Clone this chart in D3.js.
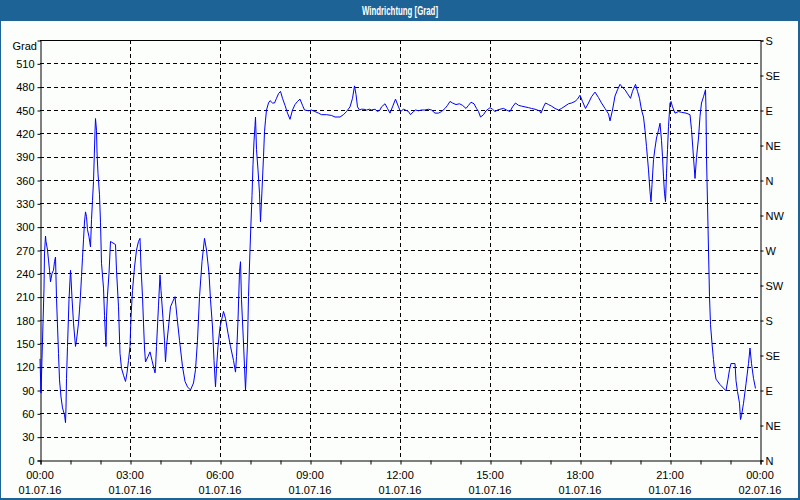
<!DOCTYPE html>
<html>
<head>
<meta charset="utf-8">
<script src="https://cdn.jsdelivr.net/npm/d3@7"></script>
<style>
    body { margin: 0; background: #fbfefb; }
    svg { display: block; }
    text { font-family: "Liberation Sans", Arial, sans-serif; font-size: 11px; fill: #000; }
</style>
</head>
<body>
<div id="chart"></div>
<script>
// Messwerte: Minuten seit 01.07.16 00:00 und Windrichtung in Grad
const minutes = [0, 2, 4, 6, 8, 9, 11, 12, 15, 17, 19, 21, 24, 27, 29, 31, 33, 37, 39, 42, 45, 49, 51, 52, 53, 55, 58, 61, 62, 64, 67, 71, 73, 77, 79, 81, 83, 85, 87, 89, 91, 93, 95, 98, 101, 103, 105, 107, 110, 111, 113, 114, 116, 119, 121, 123, 127, 129, 131, 132, 133, 135, 138, 141, 146, 151, 153, 157, 160, 163, 167, 171, 174, 177, 180, 182, 185, 189, 193, 197, 200, 202, 205, 207, 209, 211, 216, 220, 224, 230, 231, 233, 237, 240, 242, 246, 249, 251, 253, 257, 261, 265, 270, 274, 279, 285, 290, 295, 301, 307, 311, 315, 319, 324, 329, 333, 338, 341, 345, 348, 351, 353, 356, 360, 367, 371, 376, 381, 387, 391, 393, 396, 399, 401, 403, 407, 411, 415, 417, 420, 422, 424, 426, 428, 430, 431, 433, 436, 439, 441, 444, 447, 449, 451, 453, 457, 460, 465, 469, 473, 477, 481, 485, 490, 495, 500, 505, 510, 515, 520, 525, 529, 537, 543, 550, 557, 563, 573, 583, 590, 600, 607, 613, 620, 625, 629, 632, 635, 639, 643, 648, 653, 659, 663, 670, 675, 680, 683, 690, 695, 700, 705, 711, 717, 721, 727, 731, 737, 741, 747, 751, 757, 763, 770, 777, 783, 790, 797, 803, 810, 815, 820, 825, 832, 839, 845, 852, 857, 862, 868, 873, 877, 881, 887, 892, 900, 905, 910, 915, 920, 927, 933, 940, 945, 951, 957, 963, 970, 977, 983, 990, 999, 1002, 1007, 1011, 1017, 1023, 1030, 1037, 1043, 1050, 1057, 1063, 1070, 1075, 1080, 1085, 1091, 1097, 1103, 1110, 1117, 1123, 1130, 1137, 1140, 1145, 1150, 1155, 1160, 1165, 1170, 1175, 1181, 1185, 1191, 1195, 1199, 1203, 1207, 1210, 1213, 1217, 1220, 1222, 1224, 1227, 1230, 1233, 1237, 1240, 1243, 1245, 1247, 1249, 1251, 1253, 1255, 1257, 1260, 1262, 1265, 1270, 1277, 1283, 1292, 1300, 1303, 1307, 1310, 1313, 1317, 1320, 1323, 1327, 1331, 1332, 1333, 1335, 1337, 1339, 1341, 1344, 1347, 1349, 1352, 1360, 1372, 1376, 1379, 1382, 1390, 1392, 1395, 1399, 1401, 1403, 1407, 1412, 1417, 1420, 1423, 1427, 1431];
const grad = [130, 86, 131, 176, 221, 266, 288, 281, 270, 257, 244, 229, 240, 244, 255, 261, 208, 137, 103, 81, 67, 58, 48, 68, 105, 146, 206, 244, 234, 208, 176, 146, 154, 176, 193, 212, 236, 260, 283, 306, 319, 313, 296, 287, 274, 309, 334, 358, 422, 439, 424, 396, 368, 341, 305, 253, 221, 186, 158, 146, 184, 212, 240, 281, 279, 277, 244, 197, 137, 118, 109, 101, 112, 128, 146, 184, 218, 248, 270, 281, 285, 248, 210, 176, 144, 126, 133, 139, 128, 112, 118, 146, 199, 238, 218, 182, 154, 126, 146, 171, 197, 203, 210, 184, 154, 120, 101, 94, 90, 99, 116, 154, 210, 255, 285, 270, 240, 206, 171, 128, 94, 118, 146, 171, 191, 182, 163, 146, 128, 113, 133, 180, 242, 255, 206, 150, 90, 150, 210, 270, 306, 340, 380, 410, 430, 441, 399, 373, 343, 306, 347, 390, 422, 437, 450, 459, 462, 459, 459, 465, 471, 474, 465, 456, 446, 438, 450, 457, 461, 464, 456, 450, 449, 450, 448, 446, 444, 444, 443, 441, 441, 444, 448, 454, 465, 481, 470, 454, 450, 451, 451, 450, 451, 450, 451, 448, 450, 454, 458, 452, 446, 454, 464, 454, 448, 451, 450, 448, 444, 448, 450, 449, 450, 450, 451, 450, 446, 446, 448, 452, 456, 461, 459, 457, 458, 456, 452, 456, 460, 458, 452, 448, 441, 444, 449, 453, 451, 448, 450, 451, 452, 450, 448, 454, 459, 456, 455, 454, 453, 452, 451, 449, 446, 454, 459, 457, 455, 452, 450, 452, 455, 458, 459, 461, 464, 469, 461, 452, 459, 467, 473, 466, 459, 452, 445, 436, 450, 468, 476, 483, 479, 476, 471, 465, 474, 483, 474, 465, 450, 441, 424, 403, 373, 345, 332, 354, 386, 401, 414, 424, 433, 411, 390, 364, 343, 332, 368, 399, 429, 459, 461, 454, 446, 448, 447, 446, 444, 425, 389, 362, 389, 414, 442, 459, 467, 476, 450, 390, 330, 270, 210, 174, 150, 129, 116, 104, 97, 89, 104, 116, 124, 124, 102, 88, 73, 52, 57, 73, 98, 124, 144, 124, 105, 92];

// Achsenbeschriftungen
const leftTicks = [0, 30, 60, 90, 120, 150, 180, 210, 240, 270, 300, 330, 360, 390, 420, 450, 480, 510];
const rightTicks = [0, 45, 90, 135, 180, 225, 270, 315, 360, 405, 450, 495, 540];
const rightLabels = ["N", "NE", "E", "SE", "S", "SW", "W", "NW", "N", "NE", "E", "SE", "S"];
const hourTicks = [0, 1, 2, 3, 4, 5, 6, 7, 8, 9, 10, 11, 12, 13, 14, 15, 16, 17, 18, 19, 20, 21, 22, 23, 24];
const labelHours = [0, 3, 6, 9, 12, 15, 18, 21, 24];
const timeLabels = ["00:00", "03:00", "06:00", "09:00", "12:00", "15:00", "18:00", "21:00", "00:00"];
const dateLabels = ["01.07.16", "01.07.16", "01.07.16", "01.07.16", "01.07.16", "01.07.16", "01.07.16", "01.07.16", "02.07.16"];

const width = 800;
const height = 500;
const plotLeft = 40;
const plotRight = 760;
const plotTop = 40;
const plotBottom = 460;
const frameBlue = "#1d6395";

const start = new Date(2016, 6, 1, 0, 0);
const toDate = m => new Date(start.getTime() + m * 60000);

const svg = d3.select("#chart")
    .append("svg")
    .attr("width", width)
    .attr("height", height);

// Hintergrund und Rahmen
svg.append("rect")
    .attr("width", width)
    .attr("height", height)
    .attr("fill", "#fbfefb");

svg.append("rect")
    .attr("x", 0.5).attr("y", 0.5)
    .attr("width", width - 2).attr("height", height - 2)
    .attr("fill", "none")
    .attr("stroke", frameBlue)
    .attr("stroke-width", 1);
svg.append("rect")
    .attr("x", width - 2).attr("y", 0)
    .attr("width", 2).attr("height", height)
    .attr("fill", frameBlue);
svg.append("rect")
    .attr("x", 0).attr("y", height - 2)
    .attr("width", width).attr("height", 2)
    .attr("fill", frameBlue);

svg.append("rect")
    .attr("x", 0).attr("y", 0)
    .attr("width", width).attr("height", 21)
    .attr("fill", frameBlue);

svg.append("text")
    .attr("x", width / 2)
    .attr("y", 15)
    .attr("text-anchor", "middle")
    .style("fill", "#ffffff")
    .style("font-weight", "bold")
    .style("font-size", "12.5px")
    .attr("textLength", 76)
    .attr("lengthAdjust", "spacingAndGlyphs")
    .text("Windrichtung [Grad]");

// Skalen
const xScale = d3.scaleTime()
    .domain([start, toDate(24 * 60)])
    .range([plotLeft, plotRight]);

const yScale = d3.scaleLinear()
    .domain([0, 540])
    .range([plotBottom, plotTop]);

// Gitterlinien
svg.append("g")
    .selectAll("line")
    .data(leftTicks.filter(d => d > 0))
    .join("line")
    .attr("x1", plotLeft)
    .attr("x2", plotRight)
    .attr("y1", d => Math.round(yScale(d)) + 0.5)
    .attr("y2", d => Math.round(yScale(d)) + 0.5)
    .attr("stroke", "#000")
    .attr("stroke-dasharray", "4,3");

svg.append("g")
    .selectAll("line")
    .data(labelHours.filter(h => h > 0 && h < 24))
    .join("line")
    .attr("x1", h => Math.round(xScale(toDate(h * 60))) + 0.5)
    .attr("x2", h => Math.round(xScale(toDate(h * 60))) + 0.5)
    .attr("y1", plotTop)
    .attr("y2", plotBottom)
    .attr("stroke", "#000")
    .attr("stroke-dasharray", "4,3");

// Achsen
const leftAxis = svg.append("g")
    .attr("transform", `translate(${plotLeft + 0.5}, 0.5)`)
    .call(d3.axisLeft(yScale).tickValues(leftTicks).tickSize(3).tickPadding(3));

const rightAxis = svg.append("g")
    .attr("transform", `translate(${plotRight + 0.5}, 0.5)`)
    .call(d3.axisRight(yScale).tickValues(rightTicks).tickSize(3).tickPadding(2)
        .tickFormat((d, i) => rightLabels[i]));

const bottomAxis = svg.append("g")
    .attr("transform", `translate(0.5, ${plotBottom + 0.5})`)
    .call(d3.axisBottom(xScale).tickValues(hourTicks.map(h => toDate(h * 60))).tickSize(4).tickFormat(() => ""));

[leftAxis, rightAxis, bottomAxis].forEach(g => {
    g.select(".domain").attr("stroke", "#000");
    g.selectAll(".tick line").attr("stroke", "#000");
    g.selectAll("text").style("font-family", "Liberation Sans, Arial, sans-serif").style("font-size", "11px");
});

// obere Begrenzung
svg.append("line")
    .attr("x1", plotLeft).attr("x2", plotRight + 1)
    .attr("y1", plotTop + 0.5).attr("y2", plotTop + 0.5)
    .attr("stroke", "#000");

svg.append("text")
    .attr("x", 37)
    .attr("y", 50)
    .attr("text-anchor", "end")
    .text("Grad");

// Zeitbeschriftung unten
svg.append("g")
    .selectAll("text")
    .data(labelHours)
    .join("text")
    .attr("x", h => xScale(toDate(h * 60)))
    .attr("y", 479)
    .attr("text-anchor", "middle")
    .text((h, i) => timeLabels[i]);

svg.append("g")
    .selectAll("text")
    .data(labelHours)
    .join("text")
    .attr("x", h => xScale(toDate(h * 60)))
    .attr("y", 494)
    .attr("text-anchor", "middle")
    .text((h, i) => dateLabels[i]);

// Windrichtung als Linie
const line = d3.line()
    .x((d, i) => xScale(toDate(minutes[i])))
    .y(d => yScale(d));

svg.append("path")
    .datum(grad)
    .attr("fill", "none")
    .attr("stroke", "#0000ff")
    .attr("stroke-width", 1)
    .attr("d", line);
</script>
</body>
</html>
